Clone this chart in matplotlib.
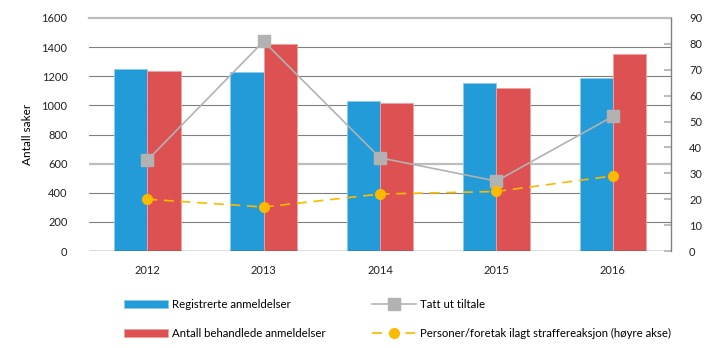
import matplotlib.pyplot as plt
import numpy as np

plt.rcParams['font.family'] = ['Lato', 'DejaVu Sans']
plt.rcParams['font.size'] = 8.3

# data
years = ['2012', '2013', '2014', '2015', '2016']
registrerte = [1250, 1228, 1028, 1151, 1190]
behandlede = [1234, 1421, 1019, 1117, 1355]
tiltale = [35, 81, 36, 27, 52]
straffereaksjon = [20, 17, 22, 23, 29]

blue = '#229BD8'
red = '#DD5153'
grey = '#B2B2B2'
yellow = '#FBBA00'

fig = plt.figure(figsize=(7.19, 3.48), dpi=100)
ax = fig.add_axes([0.1238, 0.2787, 0.8095, 0.6696])
ax2 = ax.twinx()

x = np.arange(len(years))
w = 0.286

# gridlines
for v in range(200, 1600, 200):
    if v == 600:
        ax.axhline(v, color='#BDBDBD', lw=1.6, zorder=0)
    else:
        ax.axhline(v, color='#7F7F7F', lw=0.8, zorder=0)
ax.axhline(1600, color='#BDBDBD', lw=1.6, zorder=0, clip_on=False)

b1 = ax.bar(x - w / 2, registrerte, w, color=blue, edgecolor='#8CCBEB', lw=0.6,
            label='Registrerte anmeldelser', zorder=2)
b2 = ax.bar(x + w / 2, behandlede, w, color=red, edgecolor='#F0A0A2', lw=0.6,
            label='Antall behandlede anmeldelser', zorder=2)

l1, = ax2.plot(x, tiltale, color=grey, lw=1.2, marker='s', markersize=8,
               label='Tatt ut tiltale', zorder=3)
l2, = ax2.plot(x, straffereaksjon, color=yellow, lw=1.2, ls=(0, (6, 4)),
               marker='o', markersize=7,
               label='Personer/foretak ilagt straffereaksjon (høyre akse)', zorder=3)

ax.set_xlim(-0.5, len(years) - 0.5)
ax.set_ylim(0, 1600)
ax.set_yticks(range(0, 1601, 200))
ax.set_xticks(x)
ax.set_xticklabels(years)
ax.set_ylabel('Antall saker', fontsize=8.5, labelpad=6)

ax2.set_ylim(0, 90)
ax2.set_yticks(range(0, 91, 10))

for a in (ax, ax2):
    for s in a.spines.values():
        s.set_visible(False)
ax.axhline(0, color='#555555', lw=1.0, zorder=4)
ax2.spines['right'].set_visible(True)
ax2.spines['right'].set_color('#808080')
ax2.spines['right'].set_linewidth(1.0)

ax.tick_params(axis='y', length=0, pad=15.5, colors='#222222', labelsize=8)
ax.tick_params(axis='x', length=0, pad=10, colors='#222222', labelsize=8)
ax2.tick_params(axis='y', direction='in', length=5, width=1.5, color='#BDBDBD',
                pad=13, labelcolor='#222222', labelsize=8)

ax2.set_zorder(ax.get_zorder() + 1)
ax2.patch.set_visible(False)

fig.legend(handles=[b1, b2, l1, l2], loc='upper left',
           bbox_to_anchor=(124 / 719, 1 - 299 / 348),
           ncol=2, frameon=False, fontsize=8.2, handlelength=3.9,
           columnspacing=4.0, labelspacing=1.56, handletextpad=0.35,
           borderpad=0, borderaxespad=0)

fig.savefig('out.png', dpi=100)
